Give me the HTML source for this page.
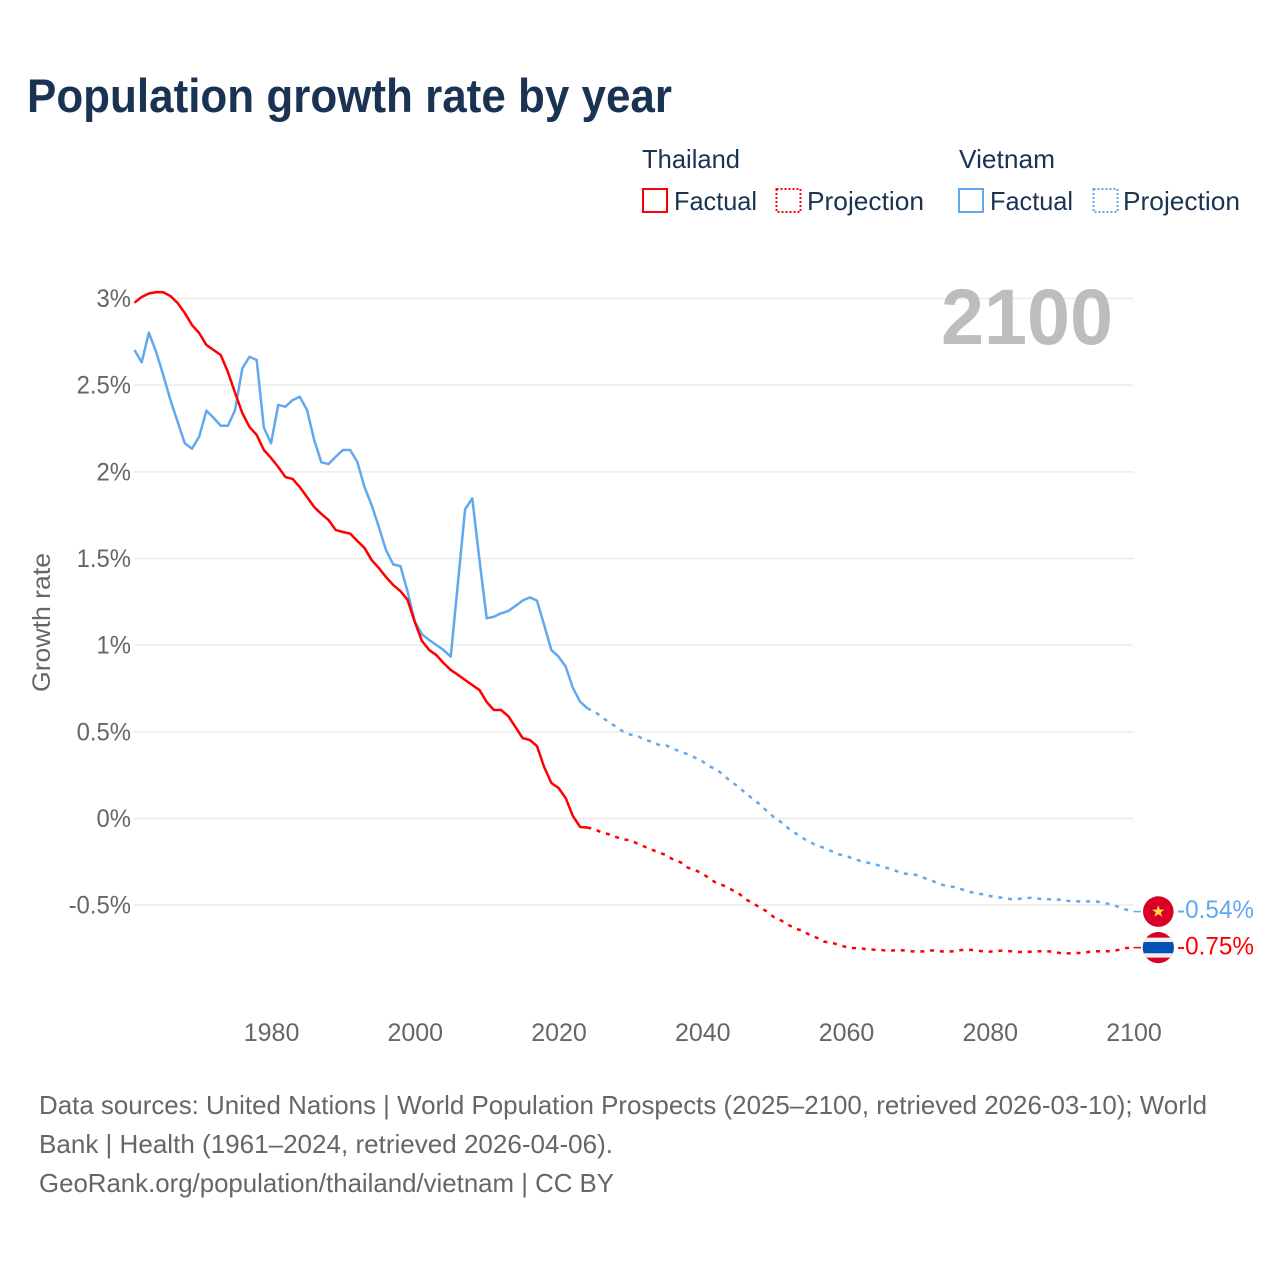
<!DOCTYPE html>
<html lang="en">
<head>
<meta charset="utf-8">
<title>Population growth rate by year</title>
<style>
  html, body { margin: 0; padding: 0; background: #fff; }
  svg { display: block; font-family: "Liberation Sans", sans-serif; }
  .tick { fill: #666; font-size: 25px; }
  .foot { fill: #666; font-size: 26px; }
  .leg { fill: #1a3353; font-size: 26px; }
</style>
</head>
<body>
<svg id="chart" width="1280" height="1280" viewBox="0 0 1280 1280" xmlns="http://www.w3.org/2000/svg">
  <text x="27" y="112" font-size="47" font-weight="700" fill="#1a3353" textLength="645" lengthAdjust="spacingAndGlyphs">Population growth rate by year</text>

  <g>
    <text class="leg" x="642" y="168" textLength="98" lengthAdjust="spacingAndGlyphs">Thailand</text>
    <text class="leg" x="959" y="168" textLength="96" lengthAdjust="spacingAndGlyphs">Vietnam</text>
    <g>
      <rect x="643" y="189" width="24" height="23" fill="none" stroke="#ff0000" stroke-width="2"/>
      <text class="leg" x="674" y="210" textLength="83" lengthAdjust="spacingAndGlyphs">Factual</text>
    </g>
    <g>
      <rect x="776.5" y="189" width="24" height="23" fill="none" stroke="#ff0000" stroke-width="2" stroke-dasharray="2 2"/>
      <text class="leg" x="807" y="210" textLength="117" lengthAdjust="spacingAndGlyphs">Projection</text>
    </g>
    <g>
      <rect x="959" y="189" width="24" height="23" fill="none" stroke="#62a8ef" stroke-width="2"/>
      <text class="leg" x="990" y="210" textLength="83" lengthAdjust="spacingAndGlyphs">Factual</text>
    </g>
    <g>
      <rect x="1093.5" y="189" width="24" height="23" fill="none" stroke="#62a8ef" stroke-width="2" stroke-dasharray="2 2"/>
      <text class="leg" x="1123" y="210" textLength="117" lengthAdjust="spacingAndGlyphs">Projection</text>
    </g>
  </g>

  <g id="grid"></g>
  <text x="941" y="344" font-size="79" font-weight="700" fill="#bdbdbd" textLength="172" lengthAdjust="spacingAndGlyphs">2100</text>
  <g id="yticks"></g>
  <g id="xticks"></g>
  <text transform="translate(50 692) rotate(-90)" x="0" y="0" font-size="25" fill="#666" textLength="139" lengthAdjust="spacingAndGlyphs">Growth rate</text>
  <g id="series"></g>
  <g id="ends"></g>

  <g>
    <text class="foot" x="39" y="1114" textLength="1168" lengthAdjust="spacingAndGlyphs">Data sources: United Nations | World Population Prospects (2025–2100, retrieved 2026-03-10); World</text>
    <text class="foot" x="39" y="1153" textLength="574" lengthAdjust="spacingAndGlyphs">Bank | Health (1961–2024, retrieved 2026-04-06).</text>
    <text class="foot" x="39" y="1192" textLength="575" lengthAdjust="spacingAndGlyphs">GeoRank.org/population/thailand/vietnam | CC BY</text>
  </g>
</svg>

<script>
const factualYears = [1961,1962,1963,1964,1965,1966,1967,1968,1969,1970,1971,1972,1973,1974,1975,1976,1977,1978,1979,1980,1981,1982,1983,1984,1985,1986,1987,1988,1989,1990,1991,1992,1993,1994,1995,1996,1997,1998,1999,2000,2001,2002,2003,2004,2005,2006,2007,2008,2009,2010,2011,2012,2013,2014,2015,2016,2017,2018,2019,2020,2021,2022,2023,2024];
const projectionYears = [2024,2025,2026,2027,2028,2029,2030,2031,2032,2033,2034,2035,2036,2037,2038,2039,2040,2041,2042,2043,2044,2045,2046,2047,2048,2049,2050,2051,2052,2053,2054,2055,2056,2057,2058,2059,2060,2061,2062,2063,2064,2065,2066,2067,2068,2069,2070,2071,2072,2073,2074,2075,2076,2077,2078,2079,2080,2081,2082,2083,2084,2085,2086,2087,2088,2089,2090,2091,2092,2093,2094,2095,2096,2097,2098,2099,2100];
const thailandFactual = [2.976,3.009,3.029,3.037,3.036,3.014,2.974,2.916,2.847,2.801,2.732,2.703,2.674,2.576,2.455,2.339,2.259,2.213,2.126,2.080,2.028,1.970,1.959,1.912,1.855,1.797,1.757,1.722,1.664,1.653,1.644,1.601,1.561,1.491,1.445,1.393,1.347,1.312,1.261,1.134,1.024,0.972,0.943,0.897,0.857,0.829,0.799,0.770,0.741,0.672,0.626,0.626,0.591,0.528,0.464,0.453,0.418,0.297,0.205,0.176,0.118,0.014,-0.049,-0.052];
const vietnamFactual = [2.703,2.632,2.803,2.693,2.559,2.414,2.289,2.165,2.134,2.203,2.353,2.312,2.266,2.266,2.357,2.597,2.664,2.645,2.255,2.165,2.386,2.376,2.414,2.433,2.357,2.184,2.055,2.045,2.087,2.126,2.126,2.058,1.912,1.808,1.682,1.548,1.466,1.456,1.309,1.136,1.063,1.030,1.001,0.972,0.934,1.358,1.784,1.847,1.491,1.155,1.164,1.184,1.197,1.226,1.257,1.276,1.257,1.116,0.972,0.934,0.876,0.753,0.674,0.636];
const thailandProjection = [-0.052,-0.062,-0.080,-0.091,-0.107,-0.120,-0.126,-0.145,-0.163,-0.180,-0.197,-0.211,-0.239,-0.253,-0.284,-0.297,-0.318,-0.345,-0.374,-0.387,-0.409,-0.430,-0.464,-0.489,-0.512,-0.537,-0.570,-0.589,-0.614,-0.637,-0.647,-0.674,-0.689,-0.711,-0.716,-0.730,-0.741,-0.747,-0.749,-0.755,-0.757,-0.759,-0.764,-0.759,-0.761,-0.766,-0.768,-0.766,-0.761,-0.766,-0.768,-0.766,-0.759,-0.757,-0.761,-0.766,-0.768,-0.764,-0.762,-0.766,-0.770,-0.770,-0.768,-0.766,-0.766,-0.770,-0.778,-0.778,-0.776,-0.776,-0.768,-0.766,-0.766,-0.766,-0.757,-0.747,-0.745];
const vietnamProjection = [0.636,0.616,0.587,0.555,0.530,0.501,0.484,0.476,0.453,0.443,0.424,0.422,0.401,0.386,0.370,0.351,0.330,0.301,0.282,0.249,0.212,0.184,0.147,0.114,0.082,0.043,0.007,-0.022,-0.057,-0.086,-0.114,-0.136,-0.157,-0.170,-0.189,-0.207,-0.216,-0.232,-0.245,-0.255,-0.264,-0.276,-0.289,-0.303,-0.318,-0.320,-0.328,-0.345,-0.359,-0.378,-0.389,-0.395,-0.407,-0.420,-0.432,-0.437,-0.447,-0.455,-0.457,-0.466,-0.464,-0.459,-0.457,-0.464,-0.466,-0.466,-0.470,-0.476,-0.478,-0.478,-0.478,-0.480,-0.488,-0.497,-0.511,-0.526,-0.537];
const yTickValues = [3,2.5,2,1.5,1,0.5,0,-0.5];
const yTickLabels = ["3%","2.5%","2%","1.5%","1%","0.5%","0%","-0.5%"];
const xTickYears = [1980,2000,2020,2040,2060,2080,2100];
const endLabels = ["-0.54%","-0.75%"];

const NS = "http://www.w3.org/2000/svg";
const RED = "#ff0000";
const BLUE = "#62a8ef";

function xScale(year) { return 134.5 + (year - 1961) * (1133.5 - 134.5) / (2100 - 1961); }
function yScale(value) { return 818.5 - value * 173.33; }
function make(tag, attrs, parent) {
  const el = document.createElementNS(NS, tag);
  for (const k in attrs) el.setAttribute(k, attrs[k]);
  parent.appendChild(el);
  return el;
}
function linePoints(years, values) {
  return years.map(function (yr, i) { return xScale(yr).toFixed(2) + "," + yScale(values[i]).toFixed(2); }).join(" ");
}

const gridG = document.getElementById("grid");
const yG = document.getElementById("yticks");
const xG = document.getElementById("xticks");
const seriesG = document.getElementById("series");
const endsG = document.getElementById("ends");

yTickValues.forEach(function (v, i) {
  const line = make("line", { x1: 134, x2: 1133.5, y1: yScale(v), y2: yScale(v), stroke: "#ebebeb", "stroke-width": 1.5 }, gridG);
  
  
  const t = make("text", { class: "tick", x: 131, y: yScale(v) + 8.5, "text-anchor": "end" }, yG);
  
  
  t.textContent = yTickLabels[i];
  const w = t.getComputedTextLength();
  t.setAttribute("textLength", (w * 0.955).toFixed(1));
  t.setAttribute("lengthAdjust", "spacingAndGlyphs");
});

xTickYears.forEach(function (yr) {
  const t = make("text", { class: "tick", x: xScale(yr) + 0.5, y: 1041, "text-anchor": "middle" }, xG);
  
  
  t.textContent = String(yr);
});

const thProj = make("polyline", { points: linePoints(projectionYears, thailandProjection), fill: "none", stroke: RED, "stroke-width": 2.5, "stroke-dasharray": "4 5.8", "stroke-linejoin": "round" }, seriesG);


const viProj = make("polyline", { points: linePoints(projectionYears, vietnamProjection), fill: "none", stroke: BLUE, "stroke-width": 2.5, "stroke-dasharray": "4 5.8", "stroke-linejoin": "round" }, seriesG);


const viFact = make("polyline", { points: linePoints(factualYears, vietnamFactual), fill: "none", stroke: BLUE, "stroke-width": 2.5, "stroke-linejoin": "round" }, seriesG);


const thFact = make("polyline", { points: linePoints(factualYears, thailandFactual), fill: "none", stroke: RED, "stroke-width": 2.5, "stroke-linejoin": "round" }, seriesG);



/* Vietnam end marker */
const viEndY = yScale(vietnamProjection[vietnamProjection.length - 1]);
const viConn = make("line", { x1: 1133.5, x2: 1141, y1: viEndY, y2: viEndY, stroke: BLUE, "stroke-width": 1.5 }, endsG);


const viFlag = make("g", { transform: "translate(1158.3 " + viEndY.toFixed(2) + ")" }, endsG);


make("circle", { r: 15.3, fill: "#d80027" }, viFlag);
make("polygon", { points: "0,-6.4 1.6,-2 6.2,-2 2.5,0.8 3.9,5.2 0,2.5 -3.9,5.2 -2.5,0.8 -6.2,-2 -1.6,-2", fill: "#ffda44" }, viFlag);
const viLabel = make("text", { x: 1177, y: viEndY + 6.5, "font-size": 25, fill: BLUE, textLength: 77, lengthAdjust: "spacingAndGlyphs" }, endsG);


viLabel.textContent = endLabels[0];

/* Thailand end marker */
const thEndY = yScale(thailandProjection[thailandProjection.length - 1]);
const thConn = make("line", { x1: 1133.5, x2: 1141, y1: thEndY, y2: thEndY, stroke: RED, "stroke-width": 1.5 }, endsG);


const thFlag = make("g", { transform: "translate(1158.3 " + thEndY.toFixed(2) + ")" }, endsG);


const clip = make("clipPath", { id: "th-clip" }, thFlag);
make("circle", { r: 15.6 }, clip);
const thInner = make("g", { "clip-path": "url(#th-clip)" }, thFlag);
make("rect", { x: -16, y: -16, width: 32, height: 32, fill: "#d80027" }, thInner);
make("rect", { x: -16, y: -10, width: 32, height: 20, fill: "#eeeeee" }, thInner);
make("rect", { x: -16, y: -5.6, width: 32, height: 11.2, fill: "#0052b4" }, thInner);
const thLabel = make("text", { x: 1177, y: thEndY + 7, "font-size": 25, fill: RED, textLength: 77, lengthAdjust: "spacingAndGlyphs" }, endsG);


thLabel.textContent = endLabels[1];
</script>
</body>
</html>
